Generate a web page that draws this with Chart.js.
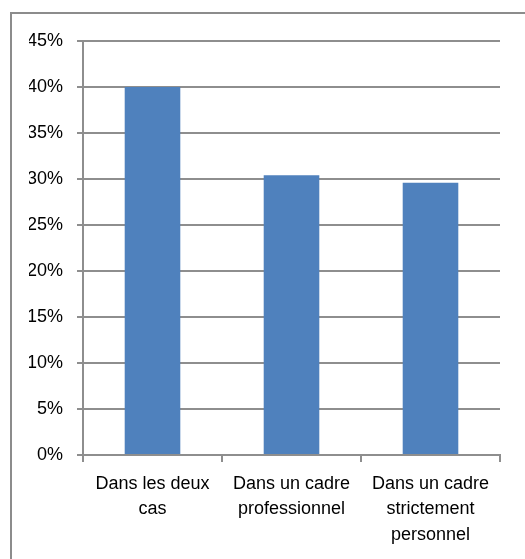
<!DOCTYPE html>
<html>
<head>
<meta charset="utf-8">
<script src="https://cdn.jsdelivr.net/npm/chart.js@4"></script>
<style>
    html, body { margin: 0; padding: 0; background: #fff; }
    #frame {
        position: absolute;
        left: 10px;
        top: 12px;
        width: 600px;
        height: 600px;
        border: 2px solid #8c8c8c;
        box-sizing: border-box;
    }
    #wrap { position: absolute; left: 0; top: 0; width: 525px; height: 559px; }
</style>
</head>
<body>
<div id="frame"></div>
<div id="wrap"><canvas id="barChart"></canvas></div>
<script>
const categories = [
    ['Dans les deux', 'cas'],
    ['Dans un cadre', 'professionnel'],
    ['Dans un cadre', 'strictement', 'personnel']
];
const shares = [40.0, 30.4, 29.6];
const yTicks = [0, 5, 10, 15, 20, 25, 30, 35, 40, 45];

const axisGray = '#8e8e8e';
const fontSpec = { family: 'Liberation Sans', size: 18 };

function initializeChart() {
    const ctx = document.getElementById('barChart').getContext('2d');

    new Chart(ctx, {
        type: 'bar',
        data: {
            labels: categories,
            datasets: [{
                data: shares,
                backgroundColor: '#4f81bd',
                borderWidth: 0,
                categoryPercentage: 1,
                barPercentage: 0.4
            }]
        },
        options: {
            responsive: true,
            maintainAspectRatio: false,
            animation: false,
            layout: {
                padding: { left: 29, top: 41, right: 25, bottom: 0 }
            },
            plugins: {
                legend: { display: false },
                tooltip: { enabled: false }
            },
            scales: {
                x: {
                    offset: true,
                    grid: {
                        offset: true,
                        drawOnChartArea: false,
                        drawTicks: true,
                        tickLength: 7,
                        color: axisGray,
                        lineWidth: 2
                    },
                    border: { display: true, color: axisGray, width: 2 },
                    ticks: {
                        color: '#000',
                        font: { ...fontSpec, lineHeight: 1.39 },
                        padding: 10,
                        maxRotation: 0,
                        autoSkip: false
                    },
                    afterFit: function(scale) { scale.height = 104; }
                },
                y: {
                    min: 0,
                    max: 45,
                    afterBuildTicks: function(scale) {
                        scale.ticks = yTicks.map(v => ({ value: v }));
                    },
                    grid: {
                        color: axisGray,
                        lineWidth: 2,
                        tickLength: 6
                    },
                    border: { display: true, color: axisGray, width: 2 },
                    ticks: {
                        color: '#000',
                        font: fontSpec,
                        padding: 14,
                        callback: v => v + '%'
                    },
                    afterFit: function(scale) { scale.width = 54; }
                }
            }
        }
    });
}

window.onload = initializeChart;
</script>
</body>
</html>
